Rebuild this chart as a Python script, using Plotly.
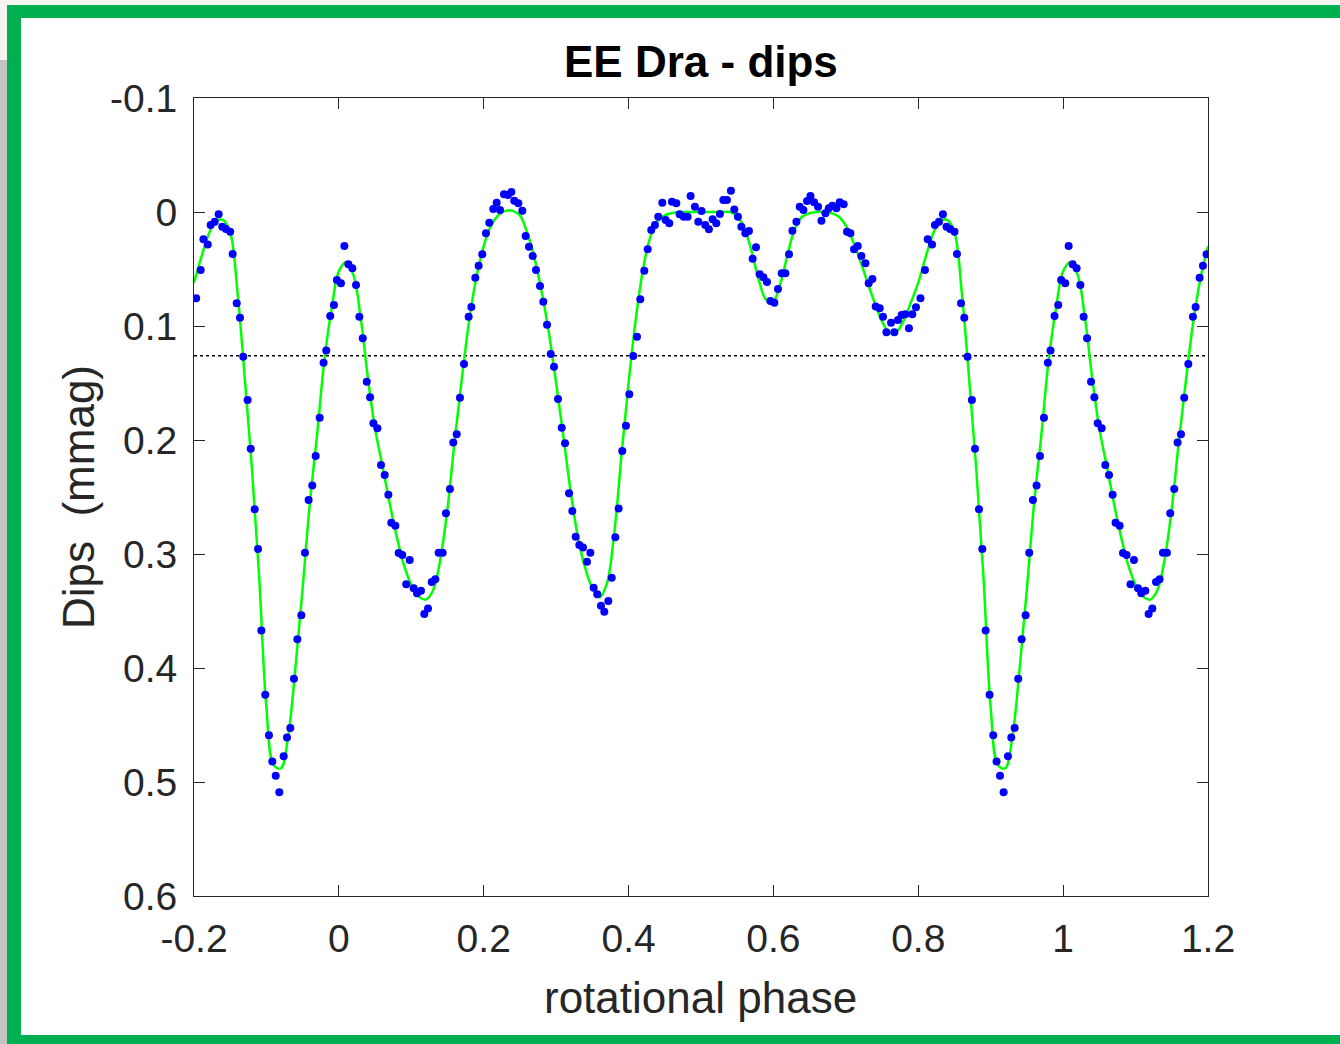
import plotly.graph_objects as go

# ---------------- data (one rotational cycle, phase 0..1) ----------------
obs_phase = [
    0.0029, 0.0076, 0.0131, 0.0186, 0.0237, 0.0283, 0.0330, 0.0385, 0.0431, 0.0477,
    0.0532, 0.0582, 0.0633, 0.0683, 0.0724, 0.0780, 0.0826, 0.0876, 0.0930, 0.0978,
    0.1033, 0.1079, 0.1134, 0.1180, 0.1231, 0.1282, 0.1332, 0.1378, 0.1433, 0.1479,
    0.1534, 0.1580, 0.1627, 0.1672, 0.1728, 0.1792, 0.1829, 0.1884, 0.1930, 0.1980,
    0.2031, 0.2077, 0.2132, 0.2179, 0.2225, 0.2280, 0.2335, 0.2381, 0.2422, 0.2478,
    0.2533, 0.2579, 0.2625, 0.2676, 0.2722, 0.2777, 0.2823, 0.2874, 0.2925, 0.2970,
    0.3026, 0.3077, 0.3123, 0.3178, 0.3223, 0.3270, 0.3320, 0.3371, 0.3426, 0.3472,
    0.3518, 0.3568, 0.3619, 0.3665, 0.3720, 0.3767, 0.3817, 0.3863, 0.3913, 0.3964,
    0.4010, 0.4065, 0.4116, 0.4162, 0.4217, 0.4264, 0.4313, 0.4364, 0.4410, 0.4466,
    0.4512, 0.4562, 0.4599, 0.4659, 0.4705, 0.4760, 0.4815, 0.4857, 0.4916, 0.4963,
    0.5008, 0.5059, 0.5109, 0.5160, 0.5211, 0.5261, 0.5308, 0.5358, 0.5413, 0.5460,
    0.5510, 0.5557, 0.5612, 0.5662, 0.5713, 0.5759, 0.5810, 0.5861, 0.5911, 0.5958,
    0.6013, 0.6063, 0.6114, 0.6165, 0.6215, 0.6262, 0.6317, 0.6363, 0.6414, 0.6464,
    0.6511, 0.6561, 0.6616, 0.6663, 0.6718, 0.6764, 0.6814, 0.6870, 0.6915, 0.6970,
    0.7016, 0.7063, 0.7113, 0.7164, 0.7214, 0.7270, 0.7315, 0.7366, 0.7412, 0.7467,
    0.7513, 0.7560, 0.7624, 0.7670, 0.7720, 0.7770, 0.7821, 0.7871, 0.7917, 0.7968,
    0.8030, 0.8092, 0.8130, 0.8190, 0.8230, 0.8286, 0.8340, 0.8390, 0.8440, 0.8500,
    0.8534, 0.8590, 0.8635, 0.8680, 0.8740, 0.8783, 0.8838, 0.8884, 0.8930, 0.8984,
    0.9035, 0.9081, 0.9128, 0.9178, 0.9238, 0.9284, 0.9330, 0.9380, 0.9427, 0.9482,
    0.9532, 0.9583, 0.9633, 0.9680, 0.9735, 0.9789, 0.9826, 0.9881, 0.9932, 0.9973,
]
obs_dips = [
    0.0626, 0.0298, 0.0459, 0.0494, 0.0640, 0.0918, 0.1108, 0.1488, 0.1626, 0.1854,
    0.1898, 0.2219, 0.2307, 0.2480, 0.2725, 0.2752, 0.2991, 0.3009, 0.3266, 0.3053,
    0.3300, 0.3345, 0.3322, 0.3526, 0.3477, 0.3246, 0.3222, 0.2988, 0.2988, 0.2643,
    0.2430, 0.2023, 0.1950, 0.1629, 0.1333, 0.0918, 0.0833, 0.0576, 0.0471, 0.0371,
    0.0187, 0.0094, -0.0026, -0.0082, -0.0018, -0.0155, -0.0149, -0.0175, -0.0099, -0.0076,
    -0.0011, 0.0210, 0.0304, 0.0386, 0.0509, 0.0649, 0.0787, 0.0988, 0.1246, 0.1357,
    0.1640, 0.1892, 0.2029, 0.2468, 0.2623, 0.2848, 0.2921, 0.2942, 0.3068, 0.2988,
    0.3296, 0.3354, 0.3453, 0.3506, 0.3412, 0.3208, 0.2854, 0.2600, 0.2096, 0.1874,
    0.1599, 0.1263, 0.1094, 0.0766, 0.0515, 0.0327, 0.0158, 0.0114, 0.0041, -0.0082,
    0.0070, 0.0099, -0.0090, -0.0076, 0.0020, 0.0041, 0.0041, -0.0140, -0.0047, 0.0085,
    -0.0009, 0.0114, 0.0152, 0.0064, 0.0099, 0.0018, -0.0105, -0.0105, -0.0187, -0.0023,
    0.0041, 0.0129, 0.0187, 0.0167, 0.0410, 0.0310, 0.0547, 0.0573, 0.0614, 0.0781,
    0.0795, 0.0675, 0.0538, 0.0538, 0.0371, 0.0164, 0.0085, -0.0047, -0.0018, -0.0096,
    -0.0140, -0.0085, -0.0047, 0.0076, 0.0012, -0.0032, -0.0055, -0.0032, -0.0085, -0.0067,
    0.0173, 0.0187, 0.0327, 0.0298, 0.0386, 0.0450, 0.0626, 0.0588, 0.0830, 0.0845,
    0.0918, 0.1055, 0.0971, 0.1055, 0.0947, 0.0904, 0.0897, 0.1020, 0.0897, 0.0836,
    0.0757, 0.0509, 0.0240, 0.0284, 0.0114, 0.0085, 0.0020, 0.0129, 0.0149, 0.0173,
    0.0368, 0.0800, 0.0927, 0.1270, 0.1650, 0.2076, 0.2608, 0.2956, 0.3670, 0.4234,
    0.4590, 0.4820, 0.4945, 0.5090, 0.4775, 0.4610, 0.4526, 0.4094, 0.3748, 0.3538,
    0.2988, 0.2526, 0.2400, 0.2140, 0.1804, 0.1322, 0.1216, 0.0912, 0.0816, 0.0596,
]

fit_phase = [i / 100 for i in range(100)]
fit_dips = [
    0.052, 0.044, 0.055, 0.092, 0.145, 0.190, 0.222, 0.255, 0.285, 0.310,
    0.327, 0.337, 0.340, 0.332, 0.305, 0.260, 0.200, 0.145, 0.095, 0.057,
    0.030, 0.012, 0.003, -0.001, -0.001, 0.003, 0.018, 0.040, 0.070, 0.106,
    0.150, 0.197, 0.245, 0.285, 0.312, 0.330, 0.338, 0.326, 0.283, 0.215,
    0.150, 0.094, 0.050, 0.022, 0.008, 0.003, 0.001, 0.000, 0.000, 0.000,
    0.000, 0.000, 0.000, 0.000, 0.000, 0.004, 0.014, 0.035, 0.060, 0.077,
    0.078, 0.062, 0.036, 0.014, 0.004, 0.001, 0.000, 0.000, 0.001, 0.004,
    0.012, 0.026, 0.043, 0.062, 0.080, 0.096, 0.106, 0.105, 0.095, 0.079,
    0.062, 0.040, 0.020, 0.008, 0.007, 0.018, 0.070, 0.145, 0.225, 0.320,
    0.435, 0.485, 0.488, 0.460, 0.400, 0.330, 0.255, 0.195, 0.130, 0.085,
]

threshold = 0.126

x_ticks = [-0.2, 0, 0.2, 0.4, 0.6, 0.8, 1.0, 1.2]
x_ticktext = ["-0.2", "0", "0.2", "0.4", "0.6", "0.8", "1", "1.2"]
y_ticks = [-0.1, 0, 0.1, 0.2, 0.3, 0.4, 0.5, 0.6]
y_ticktext = ["-0.1", "0", "0.1", "0.2", "0.3", "0.4", "0.5", "0.6"]

title_text = "EE Dra - dips"
x_label = "rotational phase"
y_label = "Dips  (mmag)"

PH_MIN, PH_MAX = -0.2, 1.2


def extend(phase, vals):
    """Repeat a one-cycle series over the displayed phase range."""
    pts = []
    for shift in (-1, 0, 1):
        for p, v in zip(phase, vals):
            q = p + shift
            if PH_MIN - 1e-9 <= q <= PH_MAX + 1e-9:
                pts.append((q, v))
    pts.sort()
    return [p for p, _ in pts], [v for _, v in pts]


ox, oy = extend(obs_phase, obs_dips)
fx, fy = extend(fit_phase, fit_dips)

# ---------------- figure ----------------
W, H = 1340, 1044
L, R, T, B = 194, 1208, 98, 896
FONT = "Liberation Sans, Arial, sans-serif"


def px(x):
    return (x - L) / (R - L)


def py(y):
    return (B - y) / (B - T)


fig = go.Figure()
fig.add_trace(go.Scatter(
    x=[PH_MIN, PH_MAX], y=[threshold, threshold], mode="lines",
    line=dict(color="black", width=1.5, dash="dot"), hoverinfo="skip", showlegend=False,
))
fig.add_trace(go.Scatter(
    x=fx, y=fy, mode="lines", line=dict(color="#00ff00", width=2.5, shape="spline"),
    showlegend=False,
))
fig.add_trace(go.Scatter(
    x=ox, y=oy, mode="markers", marker=dict(color="#0000ff", size=8),
    showlegend=False,
))

shapes = [
    dict(type="rect", xref="paper", yref="paper", x0=px(0), x1=px(7), y0=py(60), y1=py(H),
         fillcolor="#c3c3c3", line=dict(width=0), layer="below"),
    dict(type="rect", xref="paper", yref="paper", x0=px(7), x1=px(W + 5), y0=py(5), y1=py(H + 5),
         fillcolor="#00b050", line=dict(width=0), layer="below"),
    dict(type="rect", xref="paper", yref="paper", x0=px(21), x1=px(W + 5), y0=py(18), y1=py(1035),
         fillcolor="white", line=dict(width=0), layer="below"),
]

annotations = [
    dict(text=f"<b>{title_text}</b>", xref="paper", yref="paper", x=px(701), y=py(62),
         xanchor="center", yanchor="middle", showarrow=False,
         font=dict(family=FONT, size=44, color="black")),
    dict(text=x_label, xref="paper", yref="paper", x=px(700), y=py(997),
         xanchor="center", yanchor="middle", showarrow=False,
         font=dict(family=FONT, size=44, color="#262626")),
    dict(text=y_label, xref="paper", yref="paper", x=px(78), y=py(497),
         xanchor="center", yanchor="middle", showarrow=False, textangle=-90,
         font=dict(family=FONT, size=44, color="#262626")),
]

axis_common = dict(
    showgrid=False, zeroline=False, showline=True, linecolor="#262626", linewidth=1,
    mirror="ticks", ticks="inside", ticklen=11, tickwidth=1, tickcolor="#262626",
    tickfont=dict(family=FONT, size=39, color="#262626"),
)

fig.update_layout(
    width=W, height=H, autosize=False,
    margin=dict(l=L, r=W - R, t=T, b=H - B, pad=0),
    paper_bgcolor="#f7f5f1", plot_bgcolor="white",
    shapes=shapes, annotations=annotations, showlegend=False,
    xaxis=dict(range=[PH_MIN, PH_MAX], tickvals=x_ticks, ticktext=x_ticktext,
               ticklabelstandoff=8, **axis_common),
    yaxis=dict(range=[0.6, -0.1], tickvals=y_ticks, ticktext=y_ticktext,
               ticklabelstandoff=8, **axis_common),
)

fig.write_html("out.html")
